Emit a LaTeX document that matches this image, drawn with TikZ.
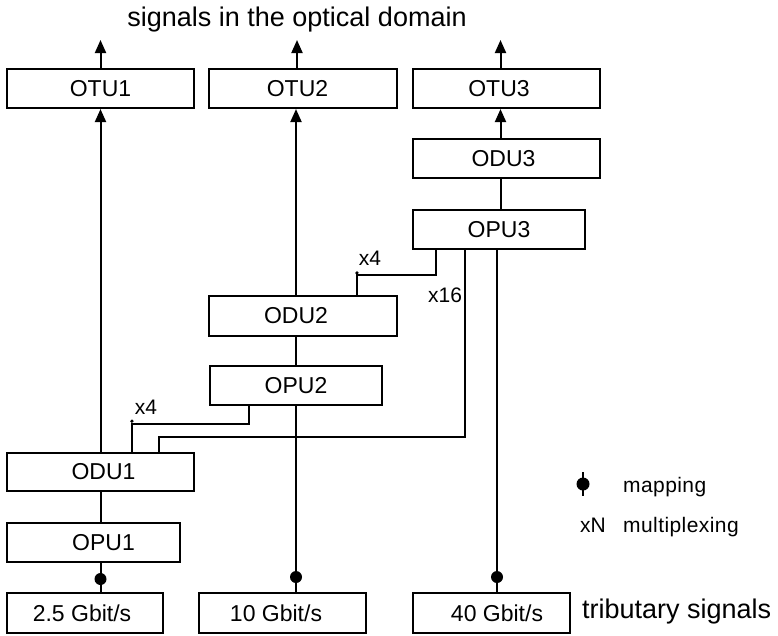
\documentclass[tikz,border=0pt]{standalone}
\usepackage{fontspec}
\setmainfont{Liberation Sans}
\newfontfamily\trackedfont[LetterSpace=2]{Liberation Sans}
\usetikzlibrary{arrows.meta,calc}

\begin{document}
\begin{tikzpicture}[x=1pt,y=-1pt,
  box/.style={draw, rectangle, inner sep=0pt, line width=2.1pt},
  boxlabel/.style={font=\fontsize{23}{27}\selectfont, inner sep=0pt},
  conn/.style={line width=2pt},
  arr/.style={conn, -{Triangle[length=13pt,width=11pt]}},
  mapdot/.style={fill, circle, inner sep=0pt, minimum size=12pt},
  mux/.style={font=\fontsize{21}{24}\selectfont, inner sep=0pt},
  legend/.style={font=\trackedfont\fontsize{21}{24}\selectfont, inner sep=0pt, anchor=base west},
  heading/.style={font=\fontsize{27}{32}\selectfont, inner sep=0pt}]

\useasboundingbox (0,0) rectangle (778,635);

% transport units
\node[box, minimum width=187pt, minimum height=39pt, label={[boxlabel]center:OTU1}] (otu1) at (100.5,88.5) {};
\node[box, minimum width=188pt, minimum height=39pt, label={[boxlabel,xshift=-5.5pt]center:OTU2}] (otu2) at (303,88.5) {};
\node[box, minimum width=187pt, minimum height=39pt, label={[boxlabel,xshift=-7.5pt]center:OTU3}] (otu3) at (506.5,88.5) {};

% data and payload units
\node[box, minimum width=187pt, minimum height=39pt, label={[boxlabel,xshift=-3pt]center:ODU3}] (odu3) at (506.5,158.5) {};
\node[box, minimum width=172pt, minimum height=39pt, label={[boxlabel]center:OPU3}] (opu3) at (499,229.5) {};
\node[box, minimum width=188pt, minimum height=40pt, label={[boxlabel,xshift=-7pt]center:ODU2}] (odu2) at (303,316) {};
\node[box, minimum width=172pt, minimum height=39pt, label={[boxlabel]center:OPU2}] (opu2) at (296,385.5) {};
\node[box, minimum width=187pt, minimum height=38.5pt, label={[boxlabel,xshift=3pt]center:ODU1}] (odu1) at (100.5,472) {};
\node[box, minimum width=173pt, minimum height=39.5pt, label={[boxlabel,xshift=10pt]center:OPU1}] (opu1) at (93.5,542.5) {};

% tributary signals
\node[box, minimum width=156pt, minimum height=40pt, label={[boxlabel,xshift=-3pt]center:2.5 Gbit/s}] (t1) at (85,613) {};
\node[box, minimum width=167pt, minimum height=40pt, label={[boxlabel,xshift=-6.5pt]center:10 Gbit/s}] (t2) at (282.5,613) {};
\node[box, minimum width=157pt, minimum height=40pt, label={[boxlabel,xshift=5.5pt]center:40 Gbit/s}] (t3) at (491.5,613) {};

% captions
\node[heading, anchor=base] (hd) at (297,26) {signals in the optical domain};
\node[heading, anchor=base west] (trib) at (582,618) {tributary signals};

% outputs into the optical domain
\coordinate (top1) at (100.5,40);
\coordinate (top2) at (297,40);
\coordinate (top3) at (500.5,40);
\draw[arr] (otu1.north) -- (top1);
\draw[arr] (otu2.north -| top2) -- (top2);
\draw[arr] (otu3.north -| top3) -- (top3);

% vertical chains
\draw[arr] (odu1.north) -- (otu1.south);
\draw[arr] (opu2 |- odu2.north) -- (opu2 |- otu2.south);
\draw[arr] (top3 |- odu3.north) -- (top3 |- otu3.south);
\draw[conn] (top3 |- opu3.north) -- (top3 |- odu3.south);
\draw[conn] (odu2.south -| opu2) -- (opu2.north);
\draw[conn] (opu2.south) -- (opu2.south |- t2.north);
\draw[conn] (odu1.south) -- (odu1.south |- opu1.north);
\draw[conn] (odu1.south |- opu1.south) -- (odu1.south |- t1.north);
\draw[conn] ([xshift=-2pt]opu3.south) -- ([xshift=-2pt]opu3.south |- t3.north);

% mapping points
\node[mapdot] (m1) at (100.5,579) {};
\node[mapdot] (m2) at (296,577) {};
\node[mapdot] (m3) at (497,577) {};

% multiplexing paths
\draw[conn] ([xshift=24pt]opu3.south west) -- ++(0,25) -| ([xshift=149pt]odu2.north west);
\fill ([xshift=149pt,yshift=22pt]odu2.north west) circle (1.8pt);
\draw[conn] ([xshift=53pt]opu3.south west) -- ++(0,187) -| ([xshift=153pt]odu1.north west);
\draw[conn] ([xshift=40pt]opu2.south west) -- ++(0,17.5) -| ([xshift=126pt]odu1.north west);
\fill ([xshift=126pt,yshift=30.5pt]odu1.north west) circle (1.8pt);

\node[mux] (mx1) at (370,258) {x4};
\node[mux] (mx2) at (445,295) {x16};
\node[mux] (mx3) at (146,407) {x4};

% legend
\draw[conn] (583,472) -- (583,496);
\node[mapdot, minimum size=13pt] (legdot) at (583,484) {};
\node[legend] (lmap) at (623,492) {mapping};
\node[font=\fontsize{21}{24}\selectfont, inner sep=0pt, anchor=base west] (lxn) at (580,532) {xN};
\node[legend] (lmux) at (623,532) {multiplexing};
\end{tikzpicture}
\end{document}
